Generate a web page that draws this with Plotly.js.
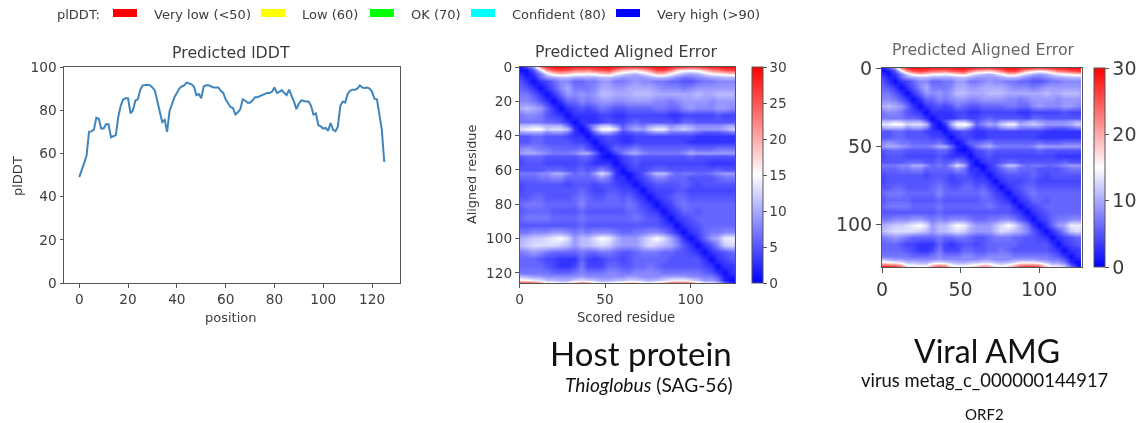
<!DOCTYPE html>
<html><head><meta charset="utf-8">
<script src="https://cdn.plot.ly/plotly-3.0.1.min.js"></script>
<style>html,body{margin:0;padding:0;background:#fff;overflow:hidden}#c{width:1145px;height:423px;filter:blur(0.4px)}</style>
</head><body><div id="c"></div>
<script>
const W = 1145, H = 423;
const plddt = [49,52,55.5,59,70,70.2,71,76.5,76,71.5,71.5,73.5,73.5,67.5,68,68.5,77,82,85,85.5,85.5,78.5,80,84.5,85,89.5,91.5,91.8,91.8,91.5,90.5,89,84,79,74.5,75.5,70,79.5,83,86,88,90,91,91.5,92.8,92.5,92,91,87,87.5,85.5,91,91.5,91.5,91,90.5,90.5,90.5,89,88,85,83.5,81.5,81,78,79,80.5,85,84.5,83.5,83.5,84.5,86,86,86.5,87,87.5,88,88,88.5,90.5,88,88.5,89.3,88,87,89.5,87,84,80.5,83,84.5,84.2,84,84,82,78,78.5,73,72.5,71.5,71.8,70.5,74,71,70.2,72.5,82,84,83.5,87.5,89,89.5,89.5,90,91.5,90.5,90.3,90.5,90,88.5,85.3,85,78.5,71,56];
const positions = plddt.map((_, i) => i);
const scoredResidue = [0,4,8,12,16,20,24,28,32,36,40,44,48,52,56,60,64,68,72,76,80,84,88,92,96,100,104,108,112,116,120,124,126];
const alignedResidue = [0,2,4,6,8,12,16,20,24,28,32,34,36,38,40,44,48,50,52,56,60,62,64,68,72,76,80,84,88,92,96,100,104,108,112,116,120,122,124,126];
const paeMatrix = [
[1,4,9,22,27,29,29,29,28,28,28,28,29,29,28,27,26,26,27,28,29,29,28,27,26,25,26,27,28,28,29,29,29],
[1,1,5,13,21,25,26,25,23,23,22,24,25,26,22,19,18,17,19,22,26,26,23,18,16,15,16,19,22,23,25,26,26],
[3,1,3,7,12,16,18,17,15,15,14,15,17,18,14,12,11,10,12,14,18,18,14,12,10,9,10,12,14,15,16,17,17],
[4,2,2,6,9,10,11,11,10,10,10,10,11,11,10,9,9,9,9,10,11,11,10,8,7,7,8,9,10,10,11,11,11],
[5,3,0.5,3,4,6,8,8,6,6,7,7,9,9,7,7,8,9,8,8,7,7,6,6,5,5,6,7,7,8,8,8,8],
[6,5,3,0.5,3,5,8,10,7,7,7,8,10,10,9,9,10,10,10,10,9,8,8,8,7,8,9,9,9,9,9,9,9],
[7,7,5,3,0.5,3,6,9,8,9,8,9,11,11,10,10,10,11,11,11,10,10,10,10,10,10,11,10,10,11,11,11,10],
[8,8,7,5,3,0.5,3,6,6,8,7,8,9,9,8,8,9,9,9,9,8,8,7,8,9,9,9,9,8,9,9,9,9],
[10,11,10,9,6,3,0.5,3,4,5,4,5,7,6,5,5,6,6,6,6,7,7,6,6,8,9,8,8,8,9,9,8,8],
[7,8,8,7,5,4,3,0.5,3,3,3,3,4,4,3,3,4,4,4,4,4,4,3,3,4,4,4,4,4,5,4,4,4],
[7,7,7,7,6,6,5,3,0.5,3,3,3,4,5,4,4,5,6,5,5,5,5,5,4,6,6,5,5,5,5,5,5,5],
[11,11,12,11,10,10,10,6,1.5,1.5,5,8,11,11,8,5,7,8,7,9,10,10,8,9,10,9,8,8,8,8,9,10,9],
[13,14,15,15,12,13,13,11,3,0.5,3,10,15,16,13,6,8,10,9,12,14,14,10,11,12,11,9,9,9,9,10,12,12],
[9,10,10,10,8,9,9,7,3,1,1.5,6,10,10,7,4,5,6,6,8,9,9,7,7,7,7,6,5,5,5,6,7,7],
[5,5,6,6,5,5,5,4,3,3,0.5,3,4,5,4,3,3,4,4,4,4,4,4,4,4,4,3,3,3,3,3,3,3],
[5,5,6,6,5,5,5,5,4,4,3,0.5,3,4,4,3,3,4,4,4,4,4,4,4,4,3,3,3,3,3,3,3,3],
[8,9,8,7,7,6,6,6,6,7,5,3,0.5,3,6,6,7,8,6,6,6,6,6,6,6,7,6,6,6,7,7,7,7],
[9,10,10,9,8,7,7,7,8,10,10,6,2,1,4,7,9,10,8,7,7,7,7,7,8,10,9,9,9,9,9,9,9],
[5,6,6,6,5,5,5,5,5,6,6,4,1.5,0.5,2,4,5,6,5,5,5,5,5,5,5,6,5,5,5,5,5,5,5],
[4,5,5,5,4,4,4,4,4,5,4,3,3,3,0.5,3,4,5,4,4,4,4,4,4,4,4,4,4,3,3,3,3,3],
[5,5,5,5,6,6,6,5,5,6,5,6,8,6,3,0.5,3,4,4,5,6,6,5,5,5,5,5,5,5,6,5,5,5],
[7,7,7,8,8,10,10,8,6,7,6,9,13,10,3,1,1,3,5,8,11,11,8,6,7,7,6,6,7,8,9,9,9],
[6,6,6,7,7,8,8,6,6,6,6,7,9,7,3,3,0.5,3,4,6,8,8,6,6,6,5,5,5,5,6,7,7,7],
[4,5,5,5,5,5,5,4,5,5,5,4,5,5,4,3,3,0.5,3,4,5,5,5,5,6,5,4,5,5,5,5,5,5],
[4,5,5,5,5,5,5,5,5,6,5,4,4,5,5,4,4,3,0.5,3,4,4,4,5,5,4,4,4,4,4,4,4,4],
[5,5,6,6,5,5,5,5,6,7,6,5,5,6,6,5,6,4,3,0.5,3,4,5,6,6,5,5,5,5,5,5,5,5],
[6,7,7,7,6,6,6,6,6,8,6,6,6,6,6,6,7,6,4,3,0.5,3,4,6,7,6,6,6,6,6,6,6,6],
[5,6,6,6,6,5,5,5,5,6,5,5,5,5,5,5,6,6,5,4,3,0.5,3,4,6,6,5,6,6,6,6,6,6],
[6,7,7,7,7,6,6,6,6,7,6,6,6,6,6,6,6,7,6,5,5,3,0.5,3,4,5,6,6,6,6,6,6,6],
[5,5,5,5,5,5,5,5,5,6,5,5,5,5,5,5,5,5,5,5,5,4,3,0.5,3,4,5,6,6,6,6,6,6],
[7,7,8,8,8,9,9,8,7,8,7,8,8,8,7,6,6,7,7,8,8,7,5,3,0.5,3,4,6,7,7,8,8,8],
[10,11,12,12,13,14,15,13,9,11,11,13,15,14,11,9,9,9,11,13,15,13,10,7,3,0.5,3,6,9,10,14,14,14],
[11,12,13,13,13,13,12,11,9,11,11,12,13,12,10,9,9,9,11,13,12,11,10,8,5,3,0.5,3,5,8,12,13,12],
[7,8,9,8,7,6,6,6,6,7,6,6,7,7,6,5,5,6,7,7,7,6,6,5,5,4,3,0.5,3,4,5,6,6],
[6,6,6,5,4,4,3,3,3,6,4,3,4,5,5,4,5,6,6,6,6,6,5,5,5,5,5,3,0.5,3,4,5,5],
[6,6,6,6,5,4,3,3,4,7,4,4,4,6,6,5,5,6,6,7,6,5,5,5,5,5,5,4,3,0.5,3,3,4],
[7,7,7,7,7,6,6,6,7,8,7,7,7,8,8,7,7,8,8,8,8,7,7,7,7,7,7,6,5,3,0.5,3,3],
[11,10,9,9,8,8,8,8,8,9,8,8,8,8,8,8,9,9,8,8,8,9,9,9,9,8,8,7,7,5,1.5,1.5,2],
[16,15,14,13,11,11,10,10,12,13,12,11,10,10,11,11,12,12,11,10,11,12,14,14,14,13,11,9,9,7,2,0.5,1],
[27,27,26,23,16,16,15,15,21,24,23,16,15,15,16,18,21,20,16,15,17,21,25,26,26,24,18,14,14,12,6,2,0.5]
];
const legendLabels = ["Very low (<50)", "Low (60)", "OK (70)", "Confident (80)", "Very high (>90)"];
const legendColors = ["#ff0000", "#ffff00", "#00ff00", "#00ffff", "#0000ff"];
const legendSwatchLeft = [113, 261, 370, 471, 616];
const legendTextLeft = [152, 300, 409, 510, 655];

const mpl = "DejaVu Sans", ink = "#3c3c3c", frame = "#555555";
const dx = (a, b) => [a / W, b / W];
const dy = (t, b) => [1 - b / H, 1 - t / H];
const bwr = [[0, "#0000ff"], [0.5, "#ffffff"], [1, "#ff0000"]];

function axis(domain, range, extra) {
  return Object.assign({
    domain, range, showgrid: false, zeroline: false, showline: true, mirror: true,
    linecolor: frame, linewidth: 1, ticks: "outside", ticklen: 3.5, tickwidth: 1, tickcolor: frame,
    tickfont: { family: mpl, size: 13.7, color: ink }, automargin: false
  }, extra);
}
function colorbar(left, top, bottom, dtick, size) {
  return {
    x: left / W, xanchor: "left", xref: "paper", y: 1 - bottom / H, yanchor: "bottom", yref: "paper",
    len: (bottom - top) / H, lenmode: "fraction", thickness: 11, thicknessmode: "pixels",
    xpad: 0, ypad: 0, outlinewidth: 1, outlinecolor: frame, ticks: "outside", ticklen: 3.5,
    tickcolor: frame, tickvals: Array.from({ length: 30 / dtick + 1 }, (_, i) => i * dtick),
    tickfont: { family: mpl, size, color: ink }
  };
}
function heat(xa, ya, bar) {
  return { type: "heatmap", x: scoredResidue, y: alignedResidue, z: paeMatrix, xaxis: xa, yaxis: ya,
    colorscale: bwr, zmin: 0, zmax: 30, zsmooth: "best", colorbar: bar, hoverinfo: "skip" };
}
const data = [
  { type: "scatter", mode: "lines", x: positions, y: plddt, line: { color: "#3f86bd", width: 2 }, hoverinfo: "skip" },
  heat("x2", "y2", colorbar(752, 67, 283, 5, 13.7)),
  heat("x3", "y3", colorbar(1094, 68, 267, 10, 19))
];
function txt(x, y, text, size, opts) {
  return Object.assign({ xref: "paper", yref: "paper", x: x / W, y: 1 - y / H, text, showarrow: false,
    xanchor: "center", yanchor: "middle", font: { family: mpl, size, color: ink } }, opts || {});
}
const cap = c => ({ font: { family: "Lato", size: c, color: "#111" } });
const annotations = [
  txt(55, 14, "plDDT:", 13, { xanchor: "left" }),
  ...legendLabels.map((l, i) => txt(legendTextLeft[i], 14, l, 13, { xanchor: "left" })),
  txt(231, 53, "Predicted lDDT", 15.8),
  txt(18, 176, "plDDT", 13, { textangle: -90 }),
  txt(231, 317, "position", 13),
  txt(626, 52, "Predicted Aligned Error", 15.8),
  txt(471, 175, "Aligned residue", 12.8, { textangle: -90 }),
  txt(626, 317, "Scored residue", 13.2),
  txt(983, 50, "Predicted Aligned Error", 15.8, { font: { family: mpl, size: 15.8, color: "#666" } }),
  txt(641, 353, "Host protein", 33, cap(33)),
  txt(649, 384, "<i>Thioglobus</i> (SAG-56)", 19.2, cap(19.2)),
  txt(987, 350, "Viral AMG", 32, cap(32)),
  txt(984, 380, "virus metag_c_000000144917", 18.4, cap(18.4)),
  txt(984, 414, "ORF2", 15, cap(15))
];
const shapes = legendColors.map((c, i) => ({
  type: "rect", xref: "paper", yref: "paper", x0: legendSwatchLeft[i] / W, x1: (legendSwatchLeft[i] + 24) / W,
  y0: 1 - 17 / H, y1: 1 - 9 / H, fillcolor: c, line: { width: 0 }
}));
const big = { family: mpl, size: 19, color: ink };
const layout = {
  width: W, height: H, margin: { l: 0, r: 0, t: 0, b: 0 }, paper_bgcolor: "#fff", plot_bgcolor: "#fff", showlegend: false,
  xaxis: axis(dx(64, 399.5), [-6.25, 131.25], { tickvals: [0, 20, 40, 60, 80, 100, 120] }),
  yaxis: axis(dy(67, 283), [0, 100], { tickvals: [0, 20, 40, 60, 80, 100] }),
  xaxis2: axis(dx(519.5, 735), [0, 126], { anchor: "y2", tickvals: [0, 50, 100] }),
  yaxis2: axis(dy(67, 283), [126, 0], { anchor: "x2", tickvals: [0, 20, 40, 60, 80, 100, 120] }),
  xaxis3: axis(dx(882, 1081.5), [0, 126.9], { anchor: "y3", tickvals: [0, 50, 100], tickfont: big, ticklen: 5 }),
  yaxis3: axis(dy(68, 267), [126.9, 0], { anchor: "x3", tickvals: [0, 50, 100], tickfont: big, ticklen: 5 }),
  annotations, shapes
};
Plotly.newPlot("c", data, layout, { displayModeBar: false, staticPlot: true });
</script></body></html>
